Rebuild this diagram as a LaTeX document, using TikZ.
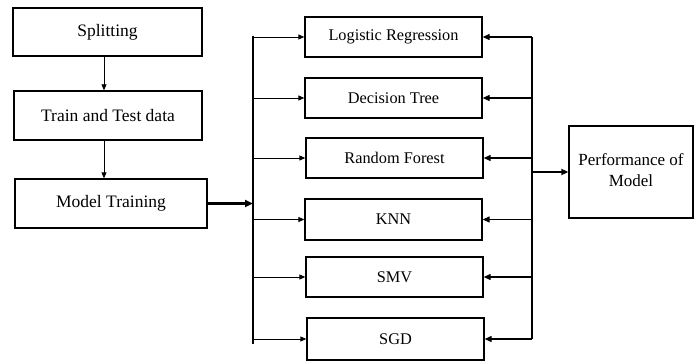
\documentclass[tikz,border=0pt]{standalone}
\usepackage{fontspec}
\setmainfont{Liberation Serif}
\newfontfamily\tnr{Liberation Serif}
\usetikzlibrary{arrows.meta}
\begin{document}
\begin{tikzpicture}[x=1pt,y=-1pt,
  box/.style={draw,line width=1.3pt,rectangle,inner sep=0pt,align=center},
  lbox/.style={box,font=\tnr\fontsize{17.5}{20}\selectfont},
  mbox/.style={box,minimum width=177pt,minimum height=40pt,font=\tnr\fontsize{16.3}{19}\selectfont},
  thin arrow/.style={line width=0.8pt,-{Triangle[length=6pt,width=5pt]}},
  mid arrow/.style={line width=1.2pt,-{Triangle[length=7pt,width=6pt]}},
  bus/.style={line width=1.2pt},
  thick arrow/.style={line width=2.2pt,-{Triangle[length=8pt,width=7pt]}}]
\useasboundingbox (0,0) rectangle (694,361);
% left column
\node[lbox,minimum width=189pt,minimum height=48pt] (split) at (107.5,32) {Splitting};
\node[lbox,minimum width=188pt,minimum height=49pt] (tt) at (108,115.5) {Train and Test data};
\node[lbox,minimum width=192pt,minimum height=49pt] (mt) at (111,203.5) {Model Training};
% middle column
\node[mbox] (lr) at (393.5,37) {Logistic Regression};
\node[mbox] (dt) at (393.5,98) {Decision Tree};
\node[mbox] (rf) at (394.5,158) {Random Forest};
\node[mbox,minimum height=41pt] (knn) at (393.5,219.5) {KNN};
\node[mbox] (smv) at (394.5,277) {SMV};
\node[mbox,minimum height=42pt] (sgd) at (395.5,339) {SGD};
% right
\node[lbox,font=\tnr\fontsize{17}{21}\selectfont,minimum width=124pt,minimum height=92pt] (perf) at (631,172) {\raisebox{4pt}{\begin{tabular}{@{}c@{}}Performance of\\Model\end{tabular}}};
% buses
\coordinate (L) at (253,0);
\coordinate (R) at (532,0);
\draw[bus] (L |- lr.west) ++(0,-1) -- (L |- sgd.west) -- ++(0,5);
\draw[bus] (R |- lr.east) -- (R |- sgd.east);
% vertical arrows
\draw[thin arrow] ([xshift=-3.5pt]split.south) -- ([xshift=-4pt]tt.north);
\draw[thin arrow] ([xshift=-4pt]tt.south) -- ([xshift=-7pt]mt.north);
% model training to bus
\draw[thick arrow] (mt.east) -- (L |- mt.east);
% bus to models
\foreach \n in {lr,dt,rf,knn,smv,sgd}{
  \draw[thin arrow] (L |- \n.west) -- (\n.west);
  \draw[mid arrow] (R |- \n.east) -- (\n.east);
}
% to performance
\draw[mid arrow,line width=1.8pt] (R |- perf.west) -- (perf.west);
\end{tikzpicture}
\end{document}
